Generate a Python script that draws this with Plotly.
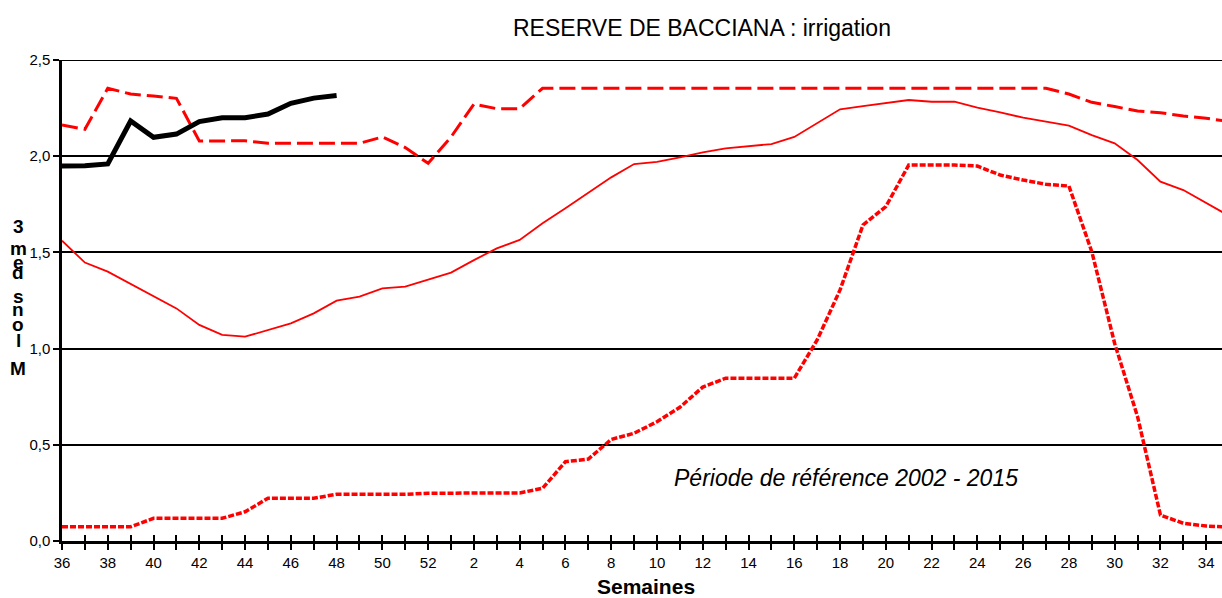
import plotly.graph_objects as go

# Week sequence of the hydrological year (week 36 to week 35)
weeks = list(range(36, 53)) + list(range(1, 36))

# Current year storage (Mm3), available up to week 48
current_year = [1.949, 1.95, 1.96, 2.183, 2.098, 2.115, 2.18, 2.20, 2.20, 2.219,
                2.275, 2.302, 2.315]

# Reference period 2002-2015: maximum storage
ref_max = [2.162, 2.14, 2.353, 2.323, 2.313, 2.301, 2.079, 2.079, 2.08, 2.067,
           2.067, 2.067, 2.067, 2.067, 2.10, 2.045, 1.963,
           2.10, 2.271, 2.247, 2.247] + [2.353] * 23 + \
          [2.323, 2.28, 2.258, 2.235, 2.226, 2.209, 2.197, 2.18]

# Reference period 2002-2015: mean storage
ref_mean = [1.561, 1.447, 1.40, 1.335, 1.27, 1.209, 1.123, 1.071, 1.062, 1.097,
            1.131, 1.183, 1.249, 1.27, 1.313, 1.322, 1.357,
            1.395, 1.46, 1.521, 1.565, 1.651, 1.729, 1.81, 1.89, 1.959, 1.97,
            1.994, 2.02, 2.041, 2.053, 2.063, 2.10, 2.17, 2.244, 2.26, 2.275,
            2.292, 2.283, 2.283, 2.252, 2.228, 2.20, 2.18, 2.159, 2.11, 2.067,
            1.98, 1.868, 1.824, 1.755, 1.69]

# Reference period 2002-2015: minimum storage
ref_min = [0.074, 0.074, 0.074, 0.074, 0.118, 0.118, 0.118, 0.118, 0.152, 0.222,
           0.222, 0.222, 0.243, 0.243, 0.243, 0.243, 0.248,
           0.25, 0.25, 0.25, 0.25, 0.274, 0.412, 0.426, 0.528, 0.56, 0.62,
           0.695, 0.80, 0.846, 0.846, 0.846, 0.846, 1.045, 1.305, 1.642, 1.738,
           1.954, 1.954, 1.954, 1.949, 1.902, 1.876, 1.854, 1.845, 1.504, 1.027,
           0.646, 0.135, 0.092, 0.078, 0.072]

y_ticks = [0.0, 0.5, 1.0, 1.5, 2.0, 2.5]

idx = list(range(len(weeks)))
tick_text = [str(w) if w % 2 == 0 else "" for w in weeks]

RED = "#FF0000"
FONT = "Liberation Sans, Arial, sans-serif"

fig = go.Figure()

fig.add_trace(go.Scatter(x=idx, y=ref_min, mode="lines", name="min",
                         line=dict(color=RED, width=3.5, dash="6px,2px")))
fig.add_trace(go.Scatter(x=idx, y=ref_mean, mode="lines", name="moyenne",
                         line=dict(color=RED, width=1.8)))
fig.add_trace(go.Scatter(x=idx, y=ref_max, mode="lines", name="max",
                         line=dict(color=RED, width=3, dash="16px,6px")))
fig.add_trace(go.Scatter(x=idx[:len(current_year)], y=current_year, mode="lines",
                         name="année en cours",
                         line=dict(color="black", width=5)))

x_range = [0, 50.69]

fig.update_layout(
    width=1222, height=598,
    margin=dict(l=62, r=0, t=60, b=57),
    paper_bgcolor="white", plot_bgcolor="white",
    showlegend=False,
    separators=", ",
    font=dict(family=FONT, size=15, color="black"),
    xaxis=dict(
        range=x_range, tickmode="array", tickvals=idx, ticktext=tick_text,
        ticks="outside", ticklen=6, tickwidth=2, tickcolor="black",
        showline=True, linecolor="black", linewidth=2.5,
        showgrid=False, zeroline=False,
        tickfont=dict(size=15, family=FONT, color="black"),
    ),
    xaxis2=dict(
        range=x_range, overlaying="x", anchor="y", side="bottom",
        tickmode="array", tickvals=idx, showticklabels=False,
        ticks="inside", ticklen=6, tickwidth=2, tickcolor="black",
        showline=False, showgrid=False, zeroline=False,
    ),
    yaxis=dict(
        range=[0, 2.5], tickmode="array", tickvals=y_ticks, tickformat=".1f",
        ticks="outside", ticklen=6, tickwidth=1.5, tickcolor="black",
        showline=True, linecolor="black", linewidth=2.5,
        showgrid=True, gridcolor="black", gridwidth=1.6,
        zeroline=False,
        tickfont=dict(size=15, family=FONT, color="black"),
    ),
)

# dummy trace to activate the secondary tick axis
fig.add_trace(go.Scatter(x=[None], y=[None], xaxis="x2", yaxis="y",
                         showlegend=False, hoverinfo="skip"))

# Top border line at 2,5
fig.add_shape(type="line", xref="paper", yref="y", x0=0, x1=1, y0=2.5, y1=2.5,
              line=dict(color="black", width=2))

annotations = [
    dict(text="RESERVE DE BACCIANA : irrigation", xref="paper", yref="paper",
         x=(702 - 62) / 1160, y=(541 - 28) / 481, xanchor="center", yanchor="middle",
         showarrow=False, font=dict(size=23, family=FONT, color="black")),
    dict(text="<i>Période de référence 2002 - 2015</i>", xref="paper", yref="paper",
         x=(846 - 62) / 1160, y=(541 - 478) / 481, xanchor="center", yanchor="middle",
         showarrow=False, font=dict(size=23, family=FONT, color="black")),
    dict(text="<b>Semaines</b>", xref="paper", yref="paper",
         x=(646 - 62) / 1160, y=(541 - 586) / 481, xanchor="center", yanchor="middle",
         showarrow=False, font=dict(size=21, family=FONT, color="black")),
]

# Stacked axis title letters
title_letters = ["3", "m", "e", "d", "s", "n", "o", "l", "M"]
letter_y = [226, 249, 262, 272, 296, 309, 324, 340, 368]
for ch, yp in zip(title_letters, letter_y):
    annotations.append(dict(
        text="<b>%s</b>" % ch, xref="paper", yref="paper",
        x=(18 - 62) / 1160, y=(541 - yp) / 481, xanchor="center", yanchor="middle",
        showarrow=False, font=dict(size=19, family=FONT, color="black")))

fig.update_layout(annotations=annotations)

fig.write_html("out.html")
